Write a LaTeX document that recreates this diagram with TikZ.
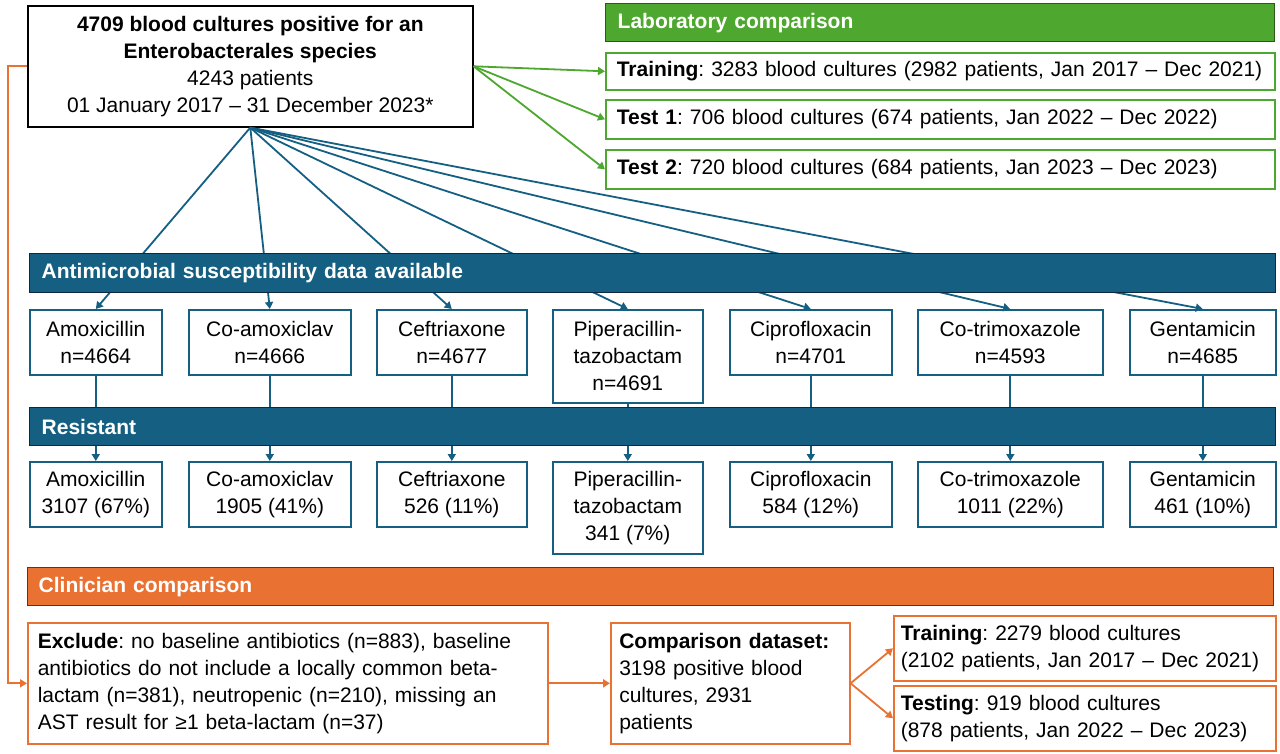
\documentclass[tikz,border=0pt]{standalone}
\usepackage{fontspec}
\setmainfont{Liberation Sans}
\usetikzlibrary{arrows.meta}
\definecolor{blueC}{HTML}{156082}
\definecolor{blueD}{HTML}{0E2841}
\definecolor{greenC}{HTML}{4EA72E}
\definecolor{greenD}{HTML}{2B5A17}
\definecolor{orangeC}{HTML}{E97132}
\definecolor{orangeD}{HTML}{6E2F0E}
\frenchspacing
\begin{document}
\frenchspacing
\begin{tikzpicture}[x=1pt,y=-1pt,
  every node/.style={font=\fontsize{21}{27}\selectfont},
  basebox/.style={anchor=north west, inner sep=0pt, line width=1.6pt, align=center},
  mainbox/.style={basebox, draw=black},
  greenbox/.style={basebox, draw=greenC, align=left, inner xsep=11pt, text width=647pt},
  bluebox/.style={basebox, draw=blueC},
  orangebox/.style={basebox, draw=orangeC, align=left, inner xsep=9pt},
  header/.style={anchor=north west, inner sep=0pt, inner xsep=12pt, line width=1.4pt, align=left, text=white, font=\fontsize{21}{27}\selectfont\bfseries},
  blueline/.style={draw=blueC, line width=1.8pt, -{Triangle[length=7pt,width=8pt]}},
  greenline/.style={draw=greenC, line width=1.8pt, -{Triangle[length=7pt,width=8pt]}},
  orangeline/.style={draw=orangeC, line width=1.8pt, -{Triangle[length=7pt,width=8pt]}}
]
\useasboundingbox[fill=white] (0,0) rectangle (1280,754);

% main box
\node[mainbox, minimum width=445pt, minimum height=121pt] (main) at (27,5)
  {\textbf{4709 blood cultures positive for an}\\ \textbf{Enterobacterales species}\\ 4243 patients\\ 01 January 2017 -- 31 December 2023*};

% laboratory comparison
\node[header, fill=greenC, draw=greenD, text width=645pt, minimum height=38pt] (labh) at (605,3) {Laboratory comparison};
\node[greenbox, minimum height=37pt] (lt) at (605,52) {\textbf{Training}: 3283 blood cultures (2982 patients, Jan 2017 -- Dec 2021)};
\node[greenbox, minimum height=39pt] (l1) at (605,99) {\textbf{Test 1}: 706 blood cultures (674 patients, Jan 2022 -- Dec 2022)};
\node[greenbox, minimum height=39pt] (l2) at (605,149) {\textbf{Test 2}: 720 blood cultures (684 patients, Jan 2023 -- Dec 2023)};

% row 1
\node[bluebox, minimum width=132pt, minimum height=65pt] (a1) at (29,309) {Amoxicillin\\n=4664};
\node[bluebox, minimum width=162pt, minimum height=65pt] (a2) at (188,309) {Co-amoxiclav\\n=4666};
\node[bluebox, minimum width=150pt, minimum height=65pt] (a3) at (376,309) {Ceftriaxone\\n=4677};
\node[bluebox, minimum width=150pt, minimum height=93pt] (a4) at (552,309) {Piperacillin-\\tazobactam\\n=4691};
\node[bluebox, minimum width=162pt, minimum height=65pt] (a5) at (729,309) {Ciprofloxacin\\n=4701};
\node[bluebox, minimum width=185pt, minimum height=65pt] (a6) at (917,309) {Co-trimoxazole\\n=4593};
\node[bluebox, minimum width=146pt, minimum height=65pt] (a7) at (1129,309) {Gentamicin\\n=4685};

% row 2
\node[bluebox, minimum width=132pt, minimum height=65pt] (r1) at (29,461) {Amoxicillin\\3107 (67\%)};
\node[bluebox, minimum width=162pt, minimum height=65pt] (r2) at (188,461) {Co-amoxiclav\\1905 (41\%)};
\node[bluebox, minimum width=150pt, minimum height=65pt] (r3) at (376,461) {Ceftriaxone\\526 (11\%)};
\node[bluebox, minimum width=150pt, minimum height=92pt] (r4) at (552,461) {Piperacillin-\\tazobactam\\341 (7\%)};
\node[bluebox, minimum width=162pt, minimum height=65pt] (r5) at (729,461) {Ciprofloxacin\\584 (12\%)};
\node[bluebox, minimum width=185pt, minimum height=65pt] (r6) at (917,461) {Co-trimoxazole\\1011 (22\%)};
\node[bluebox, minimum width=146pt, minimum height=65pt] (r7) at (1129,461) {Gentamicin\\461 (10\%)};

% clinician
\node[orangebox, minimum width=520pt, minimum height=121pt, text width=500pt] (ex) at (27,622)
  {\textbf{Exclude}: no baseline antibiotics (n=883), baseline\\antibiotics do not include a locally common beta-\\lactam (n=381), neutropenic (n=210), missing an\\AST result for ≥1 beta-lactam (n=37)};
\node[orangebox, minimum width=239pt, minimum height=121pt, text width=222pt, inner xsep=7pt] (cp) at (610,622)
  {\textbf{Comparison dataset:}\\3198 positive blood\\cultures, 2931\\patients};
\node[orangebox, minimum width=382pt, minimum height=65pt, text width=368pt, inner xsep=7pt] (ct) at (893,615)
  {\textbf{Training}: 2279 blood cultures\\(2102 patients, Jan 2017 -- Dec 2021)};
\node[orangebox, minimum width=382pt, minimum height=65pt, text width=368pt, inner xsep=7pt] (cs) at (893,685)
  {\textbf{Testing}: 919 blood cultures\\(878 patients, Jan 2022 -- Dec 2023)};

% connectors
\foreach \i in {1,...,7} {
  \draw[blueline] (main.south) -- (a\i.north);
  \draw[blueline] (a\i.south) -- (r\i.north);
}
\draw[greenline] (main.east) -- (lt.west);
\draw[greenline] (main.east) -- (l1.west);
\draw[greenline] (main.east) -- (l2.west);
\draw[orangeline] (main.west) -- ++(-19,0) |- (ex.west);
\draw[orangeline] (ex.east) -- (cp.west);
\draw[orangeline] (cp.east) -- (ct.west);
\draw[orangeline] (cp.east) -- (cs.west);

% headers on top of lines
\node[header, fill=blueC, draw=blueD, text width=1222pt, minimum height=39pt] (asth) at (29,253) {Antimicrobial susceptibility data available};
\node[header, fill=blueC, draw=blueD, text width=1222pt, minimum height=38pt] (resh) at (29,407) {Resistant};
\node[header, fill=orangeC, draw=orangeD, text width=1224pt, minimum height=38pt, inner xsep=11pt] (clh) at (27,567) {Clinician comparison};
\end{tikzpicture}
\end{document}
